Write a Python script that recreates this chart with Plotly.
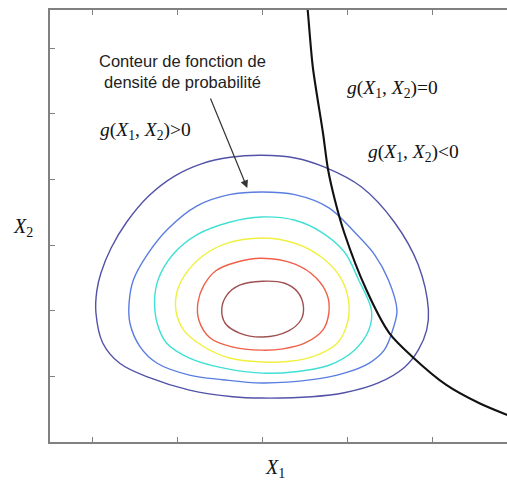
import plotly.graph_objects as go

# Contours of the probability density, outer -> inner
c1_x = [2.99, 3.38, 3.73, 4.16, 4.55, 4.83, 4.95, 4.93, 4.83, 4.67, 4.36, 3.96, 3.58, 2.99, 2.65, 2.14, 1.67, 1.32, 1.12, 1.04, 1.05, 1.10, 1.22, 1.40, 1.66, 1.96, 2.28, 2.62, 2.99]
c1_y = [4.37, 4.33, 4.19, 3.89, 3.35, 2.70, 2.01, 1.71, 1.40, 1.14, 0.90, 0.75, 0.69, 0.67, 0.69, 0.79, 0.98, 1.20, 1.51, 1.97, 2.30, 2.58, 2.96, 3.35, 3.75, 4.05, 4.24, 4.34, 4.37]

c2_x = [2.99, 3.38, 3.78, 4.08, 4.32, 4.48, 4.58, 4.54, 4.43, 4.25, 3.96, 3.58, 2.99, 2.53, 2.14, 1.76, 1.56, 1.44, 1.43, 1.48, 1.64, 1.88, 2.23, 2.61, 2.99]
c2_y = [3.81, 3.77, 3.57, 3.20, 2.85, 2.47, 2.01, 1.75, 1.40, 1.20, 1.05, 0.95, 0.90, 0.95, 1.02, 1.20, 1.45, 1.81, 2.12, 2.47, 2.85, 3.24, 3.60, 3.77, 3.81]

c3_x = [2.99, 3.38, 3.69, 3.96, 4.13, 4.28, 4.25, 4.08, 3.78, 3.38, 2.99, 2.53, 2.14, 1.87, 1.76, 1.73, 1.77, 1.94, 2.23, 2.61, 2.99]
c3_y = [3.43, 3.38, 3.20, 2.90, 2.47, 2.01, 1.71, 1.40, 1.17, 1.07, 1.05, 1.13, 1.28, 1.51, 1.81, 2.16, 2.47, 2.85, 3.16, 3.35, 3.43]

c4_x = [2.99, 3.38, 3.69, 3.91, 4.01, 4.00, 3.88, 3.61, 3.32, 2.99, 2.61, 2.30, 2.07, 1.98, 2.00, 2.11, 2.30, 2.56, 2.99]
c4_y = [3.11, 3.03, 2.82, 2.52, 2.16, 1.83, 1.51, 1.31, 1.23, 1.22, 1.28, 1.46, 1.71, 2.01, 2.32, 2.59, 2.84, 3.02, 3.11]

c5_x = [2.99, 3.38, 3.63, 3.76, 3.78, 3.71, 3.50, 3.24, 2.99, 2.64, 2.38, 2.25, 2.24, 2.31, 2.45, 2.69, 2.99]
c5_y = [2.80, 2.71, 2.50, 2.24, 1.98, 1.71, 1.51, 1.42, 1.40, 1.45, 1.59, 1.86, 2.13, 2.39, 2.61, 2.74, 2.80]

c6_x = [3.00, 3.26, 3.41, 3.48, 3.45, 3.30, 3.00, 2.73, 2.56, 2.52, 2.58, 2.73, 3.00]
c6_y = [2.45, 2.42, 2.29, 2.07, 1.86, 1.69, 1.60, 1.66, 1.81, 2.03, 2.24, 2.39, 2.45]

contour_colors = ["#5252a8", "#5a7ee0", "#40e0d4", "#f0f040", "#f06048", "#a05050"]

# Limit-state curve g(X1, X2) = 0
g_x = [3.52, 3.53, 3.59, 3.71, 3.77, 3.85, 3.96, 4.22, 4.49, 4.76, 5.16, 5.55, 5.90]
g_y = [6.70, 6.59, 5.72, 4.71, 4.15, 3.69, 3.19, 2.32, 1.66, 1.30, 0.87, 0.59, 0.40]

x_ticks = [1, 2, 3, 4, 5]
y_ticks = [1, 2, 3, 4, 5, 6]

W, H = 507, 481
ML, MR, MT, MB = 50, 0, 10, 39

def px_to_paper(px, py):
    return (px - ML) / (W - ML - MR), (H - MB - py) / (H - MT - MB)

fig = go.Figure()
contours = [(c1_x, c1_y), (c2_x, c2_y), (c3_x, c3_y), (c4_x, c4_y), (c5_x, c5_y), (c6_x, c6_y)]
for (cx, cy), col in zip(contours, contour_colors):
    fig.add_trace(go.Scatter(x=cx, y=cy, mode="lines",
                             line=dict(color=col, width=1.4, shape="spline", smoothing=1.0),
                             hoverinfo="skip", showlegend=False))

fig.add_trace(go.Scatter(x=g_x, y=g_y, mode="lines",
                         line=dict(color="#111111", width=2.1, shape="spline", smoothing=0.8),
                         hoverinfo="skip", showlegend=False))

serif = "Liberation Serif, Times New Roman, serif"
sans = "Liberation Sans, Arial, sans-serif"

def g_text(op):
    return "<i>g</i>(<i>X</i><sub>1</sub>, <i>X</i><sub>2</sub>)" + op

ann = []
def add_text(px, py, text, family, size, color="#111111"):
    x, y = px_to_paper(px, py)
    ann.append(dict(xref="paper", yref="paper", x=x, y=y, text=text,
                    showarrow=False, xanchor="center", yanchor="middle",
                    font=dict(family=family, size=size, color=color)))

add_text(145, 131, g_text("&gt;0"), serif, 19.5)
add_text(392, 89, g_text("=0"), serif, 19.5)
add_text(413, 153, g_text("&lt;0"), serif, 19.5)
add_text(182, 72, "Conteur de fonction de<br>densité de probabilité", sans, 16.5, "#222222")
add_text(275, 468, "<i>X</i><sub>1</sub>", serif, 20)
add_text(23, 227, "<i>X</i><sub>2</sub>", serif, 20)

# arrow
ann.append(dict(x=2.82, y=3.87, xref="x", yref="y",
                ax=2.38, ay=5.26, axref="x", ayref="y",
                text="", showarrow=True, arrowhead=2, arrowsize=1.3,
                arrowwidth=1.2, arrowcolor="#333333"))

axis_common = dict(showgrid=False, zeroline=False, showline=True,
                   linecolor="#808080", linewidth=1.5,
                   ticks="inside", ticklen=5, tickwidth=1, tickcolor="#808080",
                   showticklabels=False)

fig.update_layout(
    width=W, height=H,
    margin=dict(l=ML, r=MR, t=MT, b=MB),
    paper_bgcolor="white", plot_bgcolor="white",
    xaxis=dict(range=[0.5, 5.874], tickvals=x_ticks, mirror="ticks", **axis_common),
    yaxis=dict(range=[0, 6.585], tickvals=y_ticks, mirror=False, **axis_common),
    annotations=ann,
    showlegend=False,
)

fig.write_html("out.html", config={"displayModeBar": False},
               post_script="document.body.style.margin='0';document.body.style.overflow='hidden';")
